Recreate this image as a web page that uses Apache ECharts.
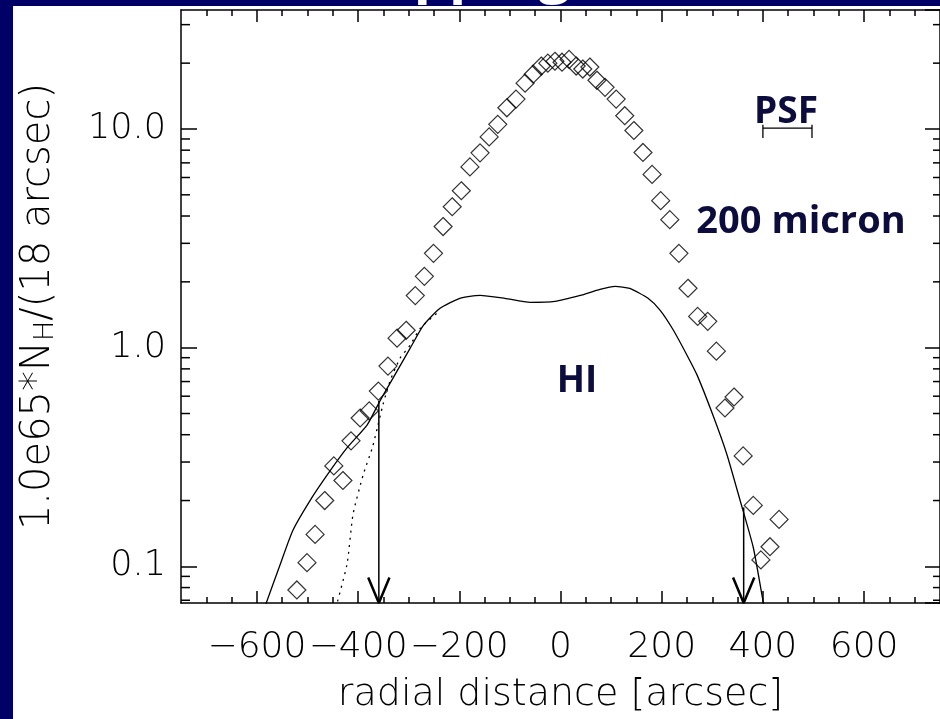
<!DOCTYPE html>
<html>
<head>
<meta charset="utf-8">
<script src="https://cdn.jsdelivr.net/npm/echarts@6.0.0/dist/echarts.min.js"></script>
<style>
  html, body { margin: 0; padding: 0; background: #fff; }
  #chart { width: 940px; height: 719px; }
</style>
</head>
<body>
<div id="chart"></div>
<script>
  // axis ranges and ticks
  const xMin = -750, xMax = 750;
  const yMin = 0.068, yMax = 35;
  const xMajor = [-600, -400, -200, 0, 200, 400, 600];
  const xMinor = [-700, -650, -550, -500, -450, -350, -300, -250, -150, -100, -50,
                  50, 100, 150, 250, 300, 350, 450, 500, 550, 650, 700];
  const yMinor = [0.07, 0.08, 0.09, 0.2, 0.3, 0.4, 0.5, 0.6, 0.7, 0.8, 0.9,
                  2, 3, 4, 5, 6, 7, 8, 9, 20, 30];

  // 200 micron profile (diamonds)
  const dustX = [-521, -501, -485, -466, -448, -430, -414, -396, -378, -360, -341, -323, -305,
                 -287, -269, -251, -232, -214, -196, -179, -159, -141, -124, -106, -88, -70,
                 -54, -38, -25, -11, 3, 17, 31, 44, 58, 72, 88, 110, 127, 145, 163, 181, 198,
                 216, 234, 252, 271, 291, 308, 325, 343, 361, 381, 396, 414, 432];
  const dustY = [0.078, 0.104, 0.140, 0.200, 0.288, 0.247, 0.375, 0.477, 0.514, 0.633, 0.824, 1.105, 1.201,
                 1.73, 2.12, 2.70, 3.58, 4.41, 5.22, 6.71, 7.78, 9.20, 10.5, 12.5, 13.7, 16.2,
                 17.8, 19.4, 20.0, 20.4, 20.2, 20.8, 19.4, 18.8, 19.2, 16.7, 15.5, 13.7, 11.5, 9.84, 7.81, 6.20, 4.70,
                 3.85, 2.70, 1.87, 1.39, 1.32, 0.964, 0.530, 0.595, 0.320, 0.190, 0.107, 0.123, 0.164];

  // HI profile (solid) and its unconvolved wing (dotted)
  const hiX = [-590, -554, -529, -495, -461, -422, -382, -357, -331, -297, -271, -238, -199, -159,
               -110, -60, -11, 39, 78, 108, 137, 173, 197, 222, 250, 270, 301, 329, 355, 381, 400, 406];
  const hiY = [0.060, 0.102, 0.146, 0.200, 0.262, 0.348, 0.444, 0.570, 0.726, 0.995, 1.266, 1.513, 1.681, 1.734,
               1.681, 1.612, 1.628, 1.734, 1.847, 1.906, 1.866, 1.681, 1.482, 1.214, 0.924, 0.749, 0.493, 0.324, 0.200, 0.122, 0.070, 0.060];
  const hiDotX = [-448, -422, -410, -390, -372, -362, -351, -337, -317, -297, -277, -238];
  const hiDotY = [0.060, 0.102, 0.173, 0.262, 0.348, 0.430, 0.547, 0.703, 0.895, 1.027, 1.227, 1.48];

  // arrows marking the HI edges
  const arrowX = [-359, 362];
  const arrowTop = [0.57, 0.186];
  const headHalf = 21, headTop = 0.089;

  // PSF bar
  const psfX = [400, 497];
  const psfY = 10.1, psfCapTop = 10.46, psfCapBottom = 9.10;

  const black = '#000';
  const labelFont = 'DejaVu Sans';
  const noteColor = '#0d0d3d';

  const chart = echarts.init(document.getElementById('chart'));

  const arrowSeries = [];
  arrowX.forEach(function (x, i) {
    arrowSeries.push({
      type: 'line', clip: false, showSymbol: false, silent: true,
      data: [[x, arrowTop[i]], [x, yMin]],
      lineStyle: { color: black, width: 1.5 }
    });
    arrowSeries.push({
      type: 'line', clip: false, showSymbol: false, silent: true,
      data: [[x - headHalf, headTop], [x, yMin], [x + headHalf, headTop]],
      lineStyle: { color: black, width: 2.5 }
    });
  });

  function tickAxis(pos, values, len, showLine) {
    return {
      type: 'value', position: pos, min: xMin, max: xMax,
      axisLine: { show: showLine, onZero: false, lineStyle: { color: black, width: 1.5 } },
      axisTick: { show: true, inside: true, length: len, customValues: values,
                  lineStyle: { color: black, width: 1.5 } },
      axisLabel: { show: false },
      splitLine: { show: false }
    };
  }

  const xBottom = tickAxis('bottom', xMajor, 12, true);
  xBottom.axisLabel = {
    show: true, customValues: xMajor, margin: 27,
    fontFamily: labelFont, fontWeight: 200, fontSize: 36, color: black,
    formatter: function (v) { return v < 0 ? '\u2212' + Math.abs(v) : String(v); }
  };
  xBottom.name = 'radial distance [arcsec]';
  xBottom.nameLocation = 'middle';
  xBottom.nameGap = 73;
  xBottom.nameTextStyle = { fontFamily: labelFont, fontWeight: 200, fontSize: 38, color: black };

  function logAxis(pos, len) {
    return {
      type: 'log', logBase: 10, position: pos, min: yMin, max: yMax,
      axisLine: { show: true, onZero: false, lineStyle: { color: black, width: 1.5 } },
      axisTick: { show: true, inside: true, length: len, lineStyle: { color: black, width: 1.5 } },
      axisLabel: { show: false },
      splitLine: { show: false }
    };
  }

  const yLeft = logAxis('left', 16);
  yLeft.axisLabel = {
    show: true, showMinLabel: false, showMaxLabel: false, margin: 15,
    fontFamily: labelFont, fontWeight: 200, fontSize: 35, color: black,
    padding: [10, 0, 0, 0],
    formatter: function (v) { return v.toFixed(1); }
  };
  yLeft.name = '1.0e65*N{sub|H}/(18 arcsec)';
  yLeft.nameLocation = 'middle';
  yLeft.nameRotate = 90;
  yLeft.nameGap = 122;
  yLeft.nameTextStyle = {
    fontFamily: labelFont, fontWeight: 200, fontSize: 40, color: black,
    rich: { sub: { fontFamily: labelFont, fontWeight: 200, fontSize: 27, color: black, verticalAlign: 'bottom' } }
  };

  const option = {
    backgroundColor: '#fff',
    animation: false,
    grid: { left: 181, top: 10, width: 759, height: 596, containLabel: false },
    xAxis: [
      xBottom,
      tickAxis('bottom', xMinor, 6, false),
      tickAxis('top', xMajor, 12, true),
      tickAxis('top', xMinor, 6, false)
    ],
    yAxis: [yLeft, logAxis('right', 15)],
    graphic: [
      { type: 'rect', shape: { x: 0, y: 0, width: 13, height: 719 }, style: { fill: '#000066' }, silent: true },
      { type: 'rect', shape: { x: 0, y: 0, width: 940, height: 6 }, style: { fill: '#000066' }, silent: true },
      { type: 'text', left: 327, top: -52, silent: true,
        style: { text: 'Mapping', fill: '#fff', font: 'bold 56px "Open Sans"' } },
      { type: 'text', x: 786, y: 112, silent: true,
        style: { text: 'PSF', fill: noteColor, font: 'bold 37px "Open Sans"', align: 'center', verticalAlign: 'middle' } },
      { type: 'text', x: 801, y: 222, silent: true,
        style: { text: '200 micron', fill: noteColor, font: 'bold 38px "Open Sans"', align: 'center', verticalAlign: 'middle' } },
      { type: 'text', x: 577, y: 381, silent: true,
        style: { text: 'HI', fill: noteColor, font: 'bold 37px "Open Sans"', align: 'center', verticalAlign: 'middle' } }
    ],
    series: [
      {
        type: 'custom', silent: true,
        data: yMinor.map(function (v) { return [xMin, v]; }),
        encode: { x: 0, y: 1 },
        renderItem: function (params, api) {
          const v = api.value(1);
          const l = api.coord([xMin, v]);
          const r = api.coord([xMax, v]);
          const st = { stroke: black, lineWidth: 1.5 };
          return {
            type: 'group',
            children: [
              { type: 'line', shape: { x1: l[0], y1: l[1], x2: l[0] + 9, y2: l[1] }, style: st },
              { type: 'line', shape: { x1: r[0], y1: r[1], x2: r[0] - 7, y2: r[1] }, style: st }
            ]
          };
        }
      },
      {
        name: '200 micron', type: 'scatter', silent: true,
        symbol: 'diamond', symbolSize: 18,
        data: dustX.map(function (x, i) { return [x, dustY[i]]; }),
        itemStyle: { color: 'rgba(0,0,0,0)', borderColor: black, borderWidth: 1.2 }
      },
      {
        name: 'HI', type: 'line', showSymbol: false, silent: true, smooth: 0.2,
        data: hiX.map(function (x, i) { return [x, hiY[i]]; }),
        lineStyle: { color: black, width: 1.3 }
      },
      {
        name: 'HI wing', type: 'line', showSymbol: false, silent: true, smooth: 0.2,
        data: hiDotX.map(function (x, i) { return [x, hiDotY[i]]; }),
        lineStyle: { color: black, width: 1.3, type: [2, 5] }
      },
      {
        name: 'PSF', type: 'line', showSymbol: false, silent: true,
        data: [[psfX[0], psfCapTop], [psfX[0], psfCapBottom], [psfX[0], psfY],
               [psfX[1], psfY], [psfX[1], psfCapBottom], [psfX[1], psfCapTop]],
        lineStyle: { color: black, width: 1.3 }
      }
    ].concat(arrowSeries)
  };

  chart.setOption(option);
</script>
</body>
</html>
